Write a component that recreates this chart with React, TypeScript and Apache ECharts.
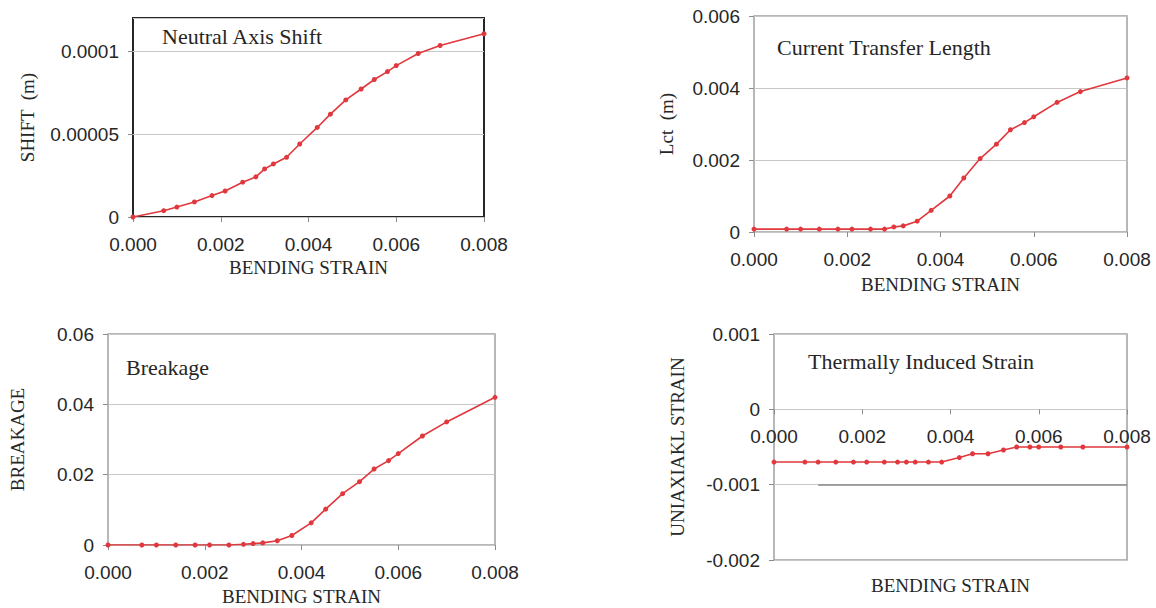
import React, { useEffect, useRef } from "react";
import * as echarts from "echarts";

// Bending strain values shared by all four panels
const strain = [
  0, 0.0007, 0.001, 0.0014, 0.0018, 0.0021, 0.0025, 0.0028, 0.003, 0.0032, 0.0035,
  0.0038, 0.0042, 0.0045, 0.00485, 0.0052, 0.0055, 0.0058, 0.006, 0.0065, 0.007, 0.008,
];

// Neutral axis shift (m)
const shift = [
  0, 0.0000038, 0.000006, 0.0000091, 0.0000129, 0.0000157, 0.000021, 0.0000242, 0.000029,
  0.000032, 0.000036, 0.000044, 0.000054, 0.000062, 0.0000706, 0.0000772, 0.0000829,
  0.0000877, 0.0000913, 0.0000986, 0.0001034, 0.0001105,
];

// Current transfer length Lct (m)
const lct = [
  0.00008, 0.00008, 0.00008, 0.00008, 0.00008, 0.00008, 0.00008, 0.00008, 0.00014, 0.00017,
  0.0003, 0.0006, 0.001, 0.0015, 0.00204, 0.00244, 0.00284, 0.00304, 0.0032, 0.0036, 0.0039,
  0.00428,
];

// Filament breakage
const breakage = [
  0, 0, 0, 0, 0, 0, 0, 0.0002, 0.0004, 0.0006, 0.0012, 0.0027, 0.0063, 0.0102, 0.0146, 0.018,
  0.0216, 0.024, 0.026, 0.031, 0.035, 0.042,
];

// Thermally induced uniaxial strain
const uniaxial = [
  -0.0007, -0.0007, -0.0007, -0.0007, -0.0007, -0.0007, -0.0007, -0.0007, -0.0007, -0.0007,
  -0.0007, -0.0007, -0.00064, -0.00059, -0.00059, -0.00054, -0.0005, -0.0005, -0.0005,
  -0.0005, -0.0005, -0.0005,
];

const panelTitles = [
  "Neutral Axis Shift",
  "Current Transfer Length",
  "Breakage",
  "Thermally Induced Strain",
];
const yNames = ["SHIFT  (m)", "Lct  (m)", "BREAKAGE", "UNIAXIAKL STRAIN"];
const xName = "BENDING STRAIN";

const RED = "#e0383d";
const SANS = "Liberation Sans, Arial, sans-serif";
const SERIF = "Liberation Serif, Times New Roman, serif";
const TEXT = "#262626";

const pairs = (ys: number[]) => strain.map((x, i) => [x, ys[i]]);
const fmtY = (v: number) => (v === 0 ? "0" : String(parseFloat(v.toPrecision(4))));

type Panel = {
  left: number;
  top: number;
  width: number;
  height: number;
  border: string;
  borderWidth: number;
  yMin: number;
  yMax: number;
  yStep: number;
  yGap: number;
  xGap: number;
  titleX: number;
  titleY: number;
};

const panels: Panel[] = [
  { left: 133, top: 18, width: 351, height: 199, border: "#262626", borderWidth: 2,
    yMin: 0, yMax: 0.00012, yStep: 0.00005, yGap: 96, xGap: 41, titleX: 162, titleY: 36 },
  { left: 754, top: 16, width: 373, height: 216, border: "#a0a0a0", borderWidth: 1.5,
    yMin: 0, yMax: 0.006, yStep: 0.002, yGap: 78, xGap: 43, titleX: 777, titleY: 47 },
  { left: 108, top: 334, width: 387, height: 211, border: "#a0a0a0", borderWidth: 1.5,
    yMin: 0, yMax: 0.06, yStep: 0.02, yGap: 81, xGap: 42, titleX: 126, titleY: 367 },
  { left: 774, top: 334, width: 353, height: 226, border: "#a0a0a0", borderWidth: 1.5,
    yMin: -0.002, yMax: 0.001, yStep: 0.001, yGap: 87, xGap: 167, titleX: 808, titleY: 361 },
];

const seriesData = [shift, lct, breakage, uniaxial];

// Vertical offset that lifts a bottom x axis up to the y = 0 level of its grid
const zeroOffset = (p: Panel) =>
  p.yMin < 0 && p.yMax > 0 ? -p.height * ((0 - p.yMin) / (p.yMax - p.yMin)) : 0;

export default function App() {
  const ref = useRef<HTMLDivElement>(null);

  useEffect(() => {
    if (!ref.current) return;
    const chart = echarts.init(ref.current, undefined, { renderer: "svg" });

    const option: any = {
      animation: false,
      backgroundColor: "#ffffff",
      grid: panels.map((p) => ({
        left: p.left,
        top: p.top,
        width: p.width,
        height: p.height,
        show: true,
        borderColor: p.border,
        borderWidth: p.borderWidth,
        backgroundColor: "transparent",
        outerBoundsMode: "none",
      })),
      xAxis: panels.map((p, i) => ({
        type: "value",
        gridIndex: i,
        position: "bottom",
        offset: zeroOffset(p),
        min: 0,
        max: 0.008,
        interval: 0.002,
        name: xName,
        nameLocation: "middle",
        nameGap: p.xGap,
        nameTextStyle: { fontFamily: SERIF, fontSize: 19, color: TEXT },
        axisLine: { show: i === 3, onZero: false, lineStyle: { color: "#c8c8c8", width: 1 } },
        axisTick: { show: true, length: 5, lineStyle: { color: "#8c8c8c", width: 1 } },
        axisLabel: {
          margin: 18,
          fontFamily: SANS,
          fontSize: 19,
          color: TEXT,
          formatter: (v: number) => v.toFixed(3),
        },
        splitLine: { show: false },
      })),
      yAxis: panels.map((p, i) => ({
        type: "value",
        gridIndex: i,
        min: p.yMin,
        max: p.yMax,
        interval: p.yStep,
        name: yNames[i],
        nameLocation: "middle",
        nameGap: p.yGap,
        nameTextStyle: { fontFamily: SERIF, fontSize: 19, color: TEXT },
        axisLine: { show: false },
        axisTick: { show: true, length: 5, lineStyle: { color: "#8c8c8c", width: 1 } },
        axisLabel: {
          margin: 14,
          fontFamily: SANS,
          fontSize: 19,
          color: TEXT,
          showMaxLabel: i !== 0,
          formatter: fmtY,
        },
        splitLine: { show: true, lineStyle: { color: "#c8c8c8", width: 1 } },
      })),
      series: seriesData.map((ys, i) => ({
        type: "line",
        xAxisIndex: i,
        yAxisIndex: i,
        data: pairs(ys),
        symbol: "circle",
        symbolSize: 5,
        showSymbol: true,
        lineStyle: { color: RED, width: 1.6 },
        itemStyle: { color: RED },
        z: 5,
        ...(i === 3
          ? {
              markLine: {
                silent: true,
                symbol: "none",
                label: { show: false },
                lineStyle: { color: "#8a8a8a", width: 1.5, type: "solid" },
                data: [[{ coord: [0.001, -0.001] }, { coord: [0.008, -0.001] }]],
              },
            }
          : {}),
      })),
      graphic: panels.map((p, i) => ({
        type: "text",
        x: p.titleX,
        y: p.titleY,
        style: {
          text: panelTitles[i],
          fontFamily: SERIF,
          fontSize: 22,
          fill: TEXT,
          verticalAlign: "middle",
          align: "left",
        },
        z: 10,
      })),
    };

    chart.setOption(option);
    return () => chart.dispose();
  }, []);

  return (
    <div
      ref={ref}
      style={{ position: "fixed", left: 0, top: 0, width: 1156, height: 608, background: "#fff" }}
    />
  );
}
